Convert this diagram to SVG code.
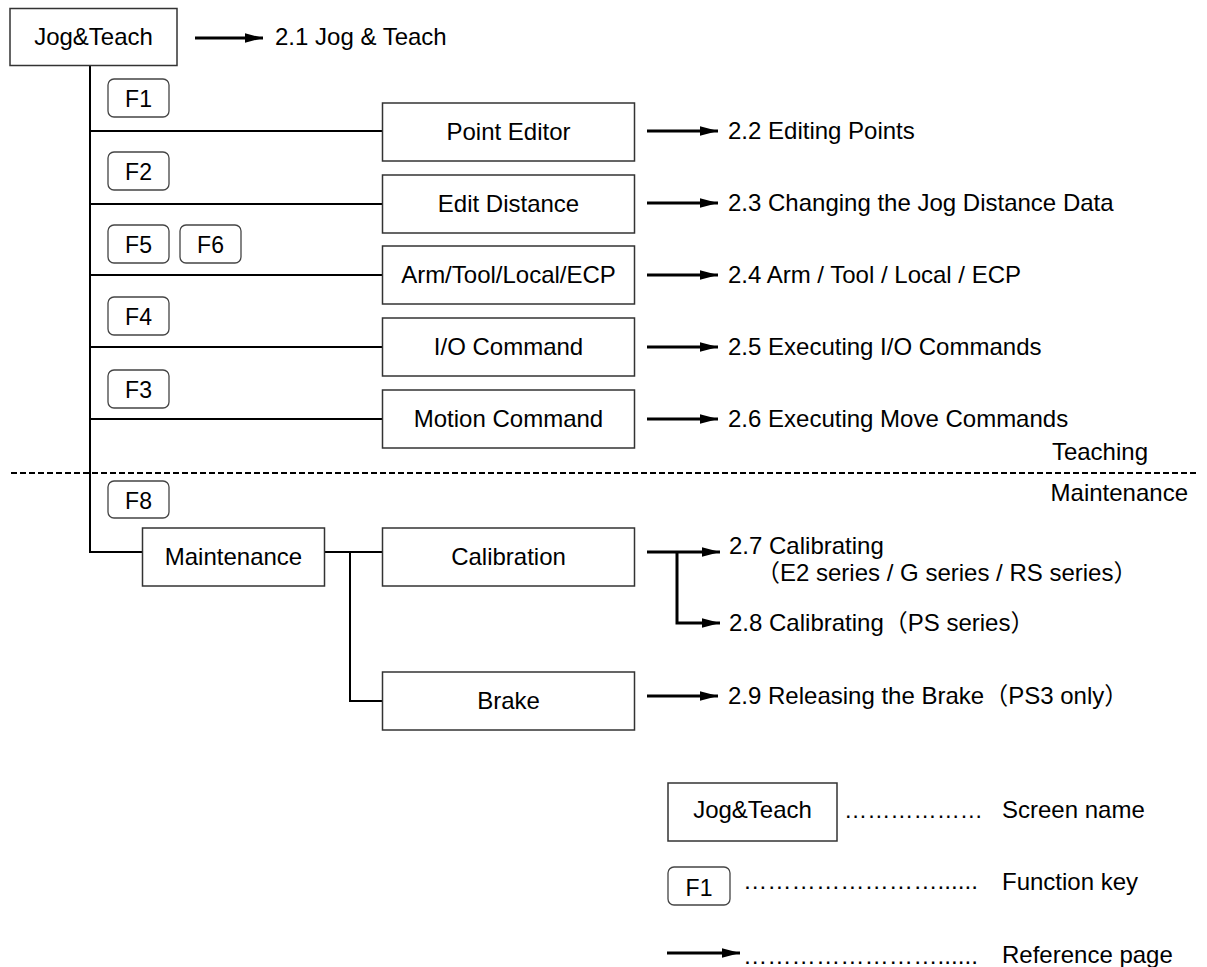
<svg xmlns="http://www.w3.org/2000/svg" width="1207" height="967" viewBox="0 0 1207 967">
<defs>
<style>
text{font-family:"Liberation Sans",Arial,"Noto Sans CJK JP",sans-serif;font-size:24px;fill:#000}
.c{text-anchor:middle}
.k{font-size:23px}
.box{fill:#fff;stroke:#333;stroke-width:1.5}
.key{fill:#fff;stroke:#444;stroke-width:1.3}
.ln{fill:none;stroke:#000;stroke-width:2}
.ar{fill:none;stroke:#000;stroke-width:3}
.dash{fill:none;stroke:#000;stroke-width:2;stroke-dasharray:6 3}
</style>
<marker id="ah" markerUnits="userSpaceOnUse" markerWidth="19" markerHeight="12" refX="18" refY="6" orient="auto">
<path d="M0,1.2 L18,6 L0,10.8 Z" fill="#000"/>
</marker>
</defs>
<rect width="1207" height="967" fill="#fff"/>

<g id="connectors">
<path class="ln" d="M90,65 V552 H143"/>
<path class="ln" d="M90,131 H382 M90,204 H382 M90,275 H382 M90,347 H382 M90,419 H382"/>
<path class="ln" d="M325,552 H382 M350,552 V701 H382"/>
<path class="ar" d="M195,38 H263" marker-end="url(#ah)"/>
<path class="ar" d="M647,131 H718" marker-end="url(#ah)"/>
<path class="ar" d="M647,203 H718" marker-end="url(#ah)"/>
<path class="ar" d="M647,275 H718" marker-end="url(#ah)"/>
<path class="ar" d="M647,347 H718" marker-end="url(#ah)"/>
<path class="ar" d="M647,419 H718" marker-end="url(#ah)"/>
<path class="ar" d="M647,552 H720" marker-end="url(#ah)"/>
<path class="ar" d="M677,552 V623 H720" marker-end="url(#ah)"/>
<path class="ar" d="M647,696 H718" marker-end="url(#ah)"/>
<path class="ar" d="M667,953 H740" marker-end="url(#ah)"/>
</g>

<path class="dash" d="M11,473 H1197"/>
<text x="1148" y="460" text-anchor="end">Teaching</text>
<text x="1188" y="501" text-anchor="end">Maintenance</text>

<g id="jogteach"><rect class="box" x="10" y="8.5" width="167" height="57"/><text class="c" x="93.5" y="45">Jog&amp;Teach</text></g>
<text x="275" y="45">2.1 Jog &amp; Teach</text>

<g id="f1"><rect class="key" x="108" y="79" width="61" height="38" rx="6"/><text class="c k" x="138.5" y="107">F1</text></g>
<g id="f2"><rect class="key" x="108" y="152" width="61" height="38" rx="6"/><text class="c k" x="138.5" y="180">F2</text></g>
<g id="f5"><rect class="key" x="108" y="225" width="61" height="38" rx="6"/><text class="c k" x="138.5" y="253">F5</text></g>
<g id="f6"><rect class="key" x="180" y="225" width="61" height="38" rx="6"/><text class="c k" x="210.5" y="253">F6</text></g>
<g id="f4"><rect class="key" x="108" y="297" width="61" height="38" rx="6"/><text class="c k" x="138.5" y="325">F4</text></g>
<g id="f3"><rect class="key" x="108" y="370" width="61" height="38" rx="6"/><text class="c k" x="138.5" y="398">F3</text></g>
<g id="f8"><rect class="key" x="108" y="481" width="61" height="37" rx="6"/><text class="c k" x="138.5" y="509">F8</text></g>

<g id="pointeditor"><rect class="box" x="382.5" y="103" width="252" height="58"/><text class="c" x="508.5" y="140">Point Editor</text></g>
<text x="728" y="139">2.2 Editing Points</text>
<g id="editdistance"><rect class="box" x="382.5" y="175" width="252" height="58"/><text class="c" x="508.5" y="212">Edit Distance</text></g>
<text x="728" y="211">2.3 Changing the Jog Distance Data</text>
<g id="armtool"><rect class="box" x="382.5" y="246" width="252" height="58"/><text class="c" x="508.5" y="283">Arm/Tool/Local/ECP</text></g>
<text x="728" y="283">2.4 Arm / Tool / Local / ECP</text>
<g id="iocommand"><rect class="box" x="382.5" y="318" width="252" height="58"/><text class="c" x="508.5" y="355">I/O Command</text></g>
<text x="728" y="355">2.5 Executing I/O Commands</text>
<g id="motioncommand"><rect class="box" x="382.5" y="390" width="252" height="58"/><text class="c" x="508.5" y="427">Motion Command</text></g>
<text x="728" y="427">2.6 Executing Move Commands</text>

<g id="maintenance"><rect class="box" x="142.5" y="528" width="182" height="58"/><text class="c" x="233.5" y="565">Maintenance</text></g>
<g id="calibration"><rect class="box" x="382.5" y="528" width="252" height="58"/><text class="c" x="508.5" y="565">Calibration</text></g>
<g id="brake"><rect class="box" x="382.5" y="672" width="252" height="58"/><text class="c" x="508.5" y="709">Brake</text></g>
<text x="729" y="554">2.7 Calibrating</text>
<text x="756" y="581">（E2 series / G series / RS series）</text>
<text x="729" y="631">2.8 Calibrating（PS series）</text>
<text x="728" y="704">2.9 Releasing the Brake（PS3 only）</text>

<g id="legend">
<rect class="box" x="668" y="783" width="169" height="58"/><text class="c" x="752.5" y="818">Jog&amp;Teach</text>
<text x="844" y="818" textLength="139" lengthAdjust="spacingAndGlyphs">………………</text>
<text x="1002" y="818">Screen name</text>
<rect class="key" x="668" y="867" width="62" height="38" rx="6"/><text class="c k" x="699" y="896">F1</text>
<text x="743" y="889" textLength="235" lengthAdjust="spacingAndGlyphs">……………………......</text>
<text x="1002" y="890">Function key</text>
<text x="743" y="964" textLength="235" lengthAdjust="spacingAndGlyphs">……………………......</text>
<text x="1002" y="963">Reference page</text>
</g>
</svg>
